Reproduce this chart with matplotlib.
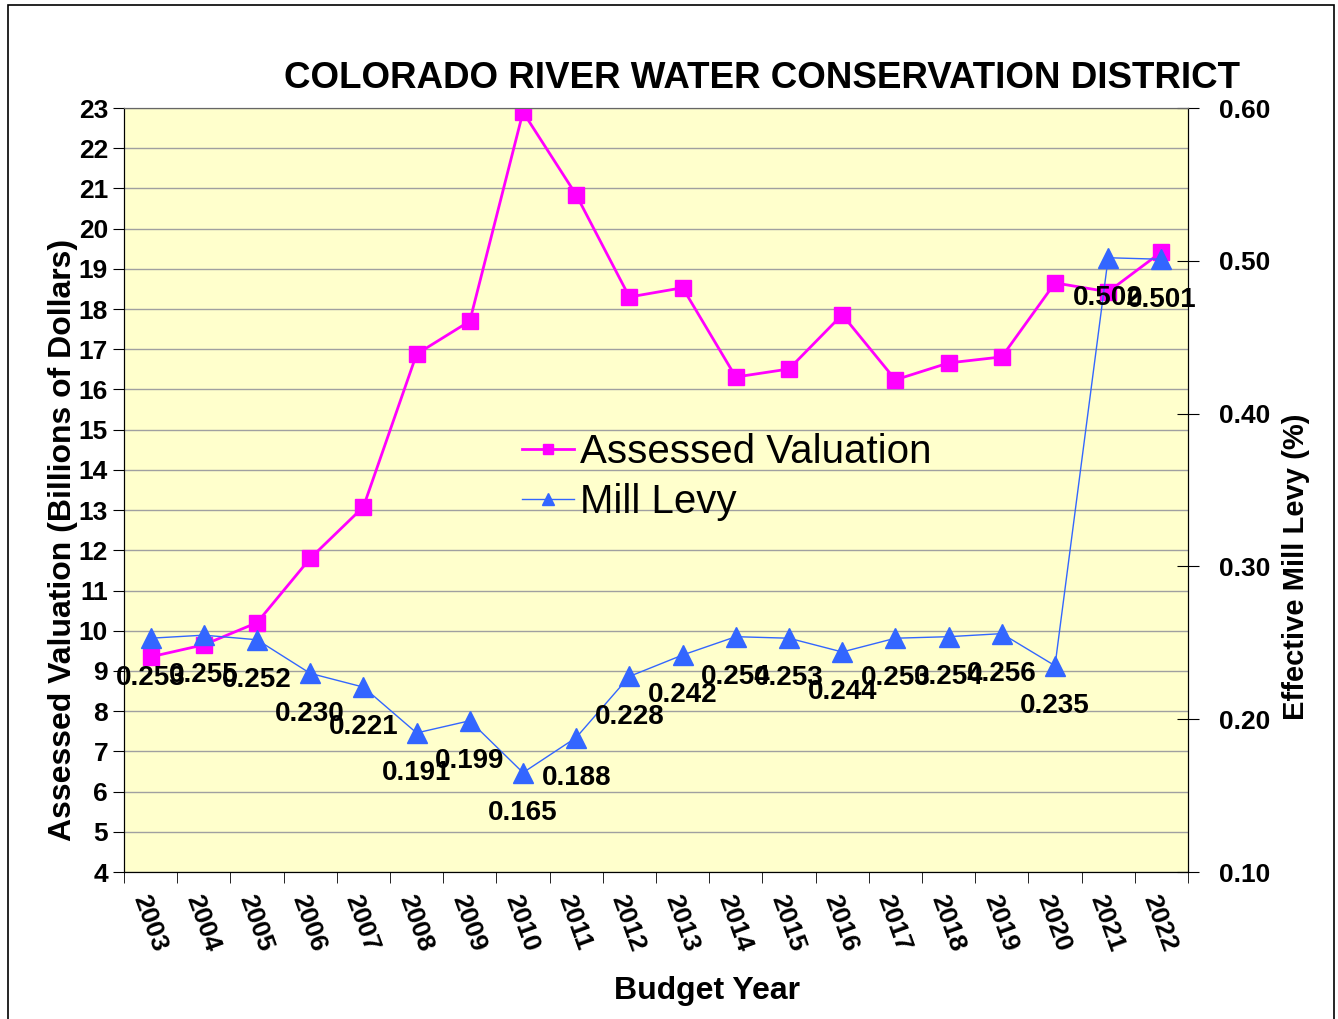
import numpy as np
import matplotlib
matplotlib.use('Agg')
from matplotlib import pyplot as plt
from matplotlib.patches import Rectangle

plt.rcParams['font.family'] = ['Liberation Sans', 'DejaVu Sans']

# data
years = ['2003', '2004', '2005', '2006', '2007', '2008', '2009', '2010',
         '2011', '2012', '2013', '2014', '2015', '2016', '2017', '2018',
         '2019', '2020', '2021', '2022']
valuation = [9.35, 9.65, 10.2, 11.8, 13.08, 16.88, 17.7, 22.9, 20.84, 18.3,
             18.53, 16.31, 16.51, 17.86, 16.24, 16.66, 16.81, 18.65, 18.43,
             19.42]
mill_levy = [0.253, 0.255, 0.252, 0.230, 0.221, 0.191, 0.199, 0.165, 0.188,
             0.228, 0.242, 0.254, 0.253, 0.244, 0.253, 0.254, 0.256, 0.235,
             0.502, 0.501]

magenta = '#FF00FF'
blue = '#3366FF'
x = np.arange(len(years))

fig = plt.figure(figsize=(13.38, 10.19), dpi=100)
fig.patches.append(Rectangle((8 / 1338, -0.01), (1334 - 8) / 1338, 1.0 - 5 / 1019 + 0.01,
                             transform=fig.transFigure, fill=False,
                             edgecolor='black', lw=1.2))

ax1 = fig.add_axes([124 / 1338, 1 - 872 / 1019, (1188 - 124) / 1338, (872 - 108) / 1019])
ax1.set_facecolor('#FFFFCC')
ax2 = ax1.twinx()

# left axis: assessed valuation
ax1.plot(x, valuation, color=magenta, lw=2, marker='s', ms=12, zorder=3,
         label='Assessed Valuation')
ax1.set_ylim(4, 23)
ax1.set_yticks(range(4, 24))
ax1.yaxis.grid(True, color='#A0A0A0', lw=1)
ax1.set_axisbelow(True)
ax1.set_xlim(-0.5, len(years) - 0.5)
ax1.set_xticks(x)
ax1.set_xticklabels(years, rotation=-70, ha='left', va='top',
                    rotation_mode='anchor', fontsize=19, fontweight='bold')
ax1.tick_params(axis='x', length=0, pad=14)
ax1.set_xticks(np.arange(-0.5, len(years)), minor=True)
ax1.tick_params(axis='x', which='minor', length=8, direction='out')
ax1.tick_params(axis='y', labelsize=19, length=8, direction='out')
for lab in ax1.get_yticklabels():
    lab.set_fontweight('bold')
ax1.set_ylabel('Assessed Valuation (Billions of Dollars)', fontsize=23,
               fontweight='bold')
ax1.yaxis.set_label_coords(-0.043, 0.435)
ax1.set_xlabel('Budget Year', fontsize=23, fontweight='bold')
ax1.xaxis.set_label_coords(0.548, -0.136)
ax1.spines['top'].set_color('#666666')

# right axis: mill levy
ax2.plot(x, mill_levy, color=blue, lw=1, marker='^', ms=15, zorder=3,
         label='Mill Levy')
ax2.set_ylim(0.10, 0.60)
ax2.set_yticks(np.arange(0.10, 0.61, 0.10))
ax2.set_yticklabels(['%.2f' % v for v in np.arange(0.10, 0.61, 0.10)],
                    fontsize=19, fontweight='bold')
ax2.tick_params(axis='y', length=16, direction='inout', pad=14)
ax2.set_ylabel('Effective Mill Levy (%)', fontsize=21, fontweight='bold')
ax2.yaxis.set_label_coords(1.088, 0.40)
ax2.spines['top'].set_color('#666666')
for xi, v in zip(x, mill_levy):
    ax2.annotate('%.3f' % v, (xi, v), xytext=(0, -29), textcoords='offset points',
                 ha='center', va='center', fontsize=20, fontweight='bold',
                 zorder=5)

ax1.set_zorder(0)
ax2.set_zorder(1)
ax2.patch.set_visible(False)

h1, l1 = ax1.get_legend_handles_labels()
h2, l2 = ax2.get_legend_handles_labels()
leg = ax2.legend(h1 + h2, l1 + l2, loc='upper left',
                 bbox_to_anchor=(0.374, 0.575), frameon=False, fontsize=29,
                 markerscale=0.6, handlelength=1.3, handletextpad=0.15,
                 labelspacing=0.3, borderpad=0, borderaxespad=0)

fig.text(762 / 1338, 1 - 78 / 1019, 'COLORADO RIVER WATER CONSERVATION DISTRICT',
         ha='center', va='center', fontsize=26.5, fontweight='bold')

fig.savefig('out.png', dpi=100)
